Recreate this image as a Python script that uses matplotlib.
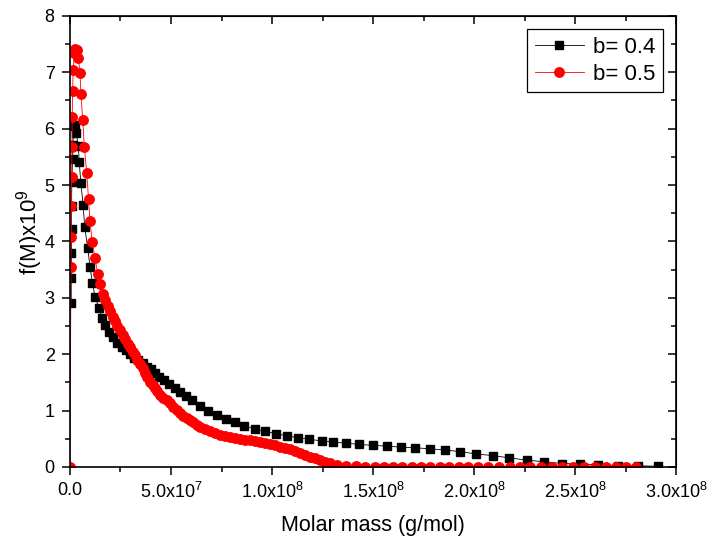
import numpy as np
import matplotlib
matplotlib.use('Agg')
import matplotlib.pyplot as plt

# molar mass in units of 1e6 g/mol, f(M) in units of 1e-9
m_b04 = [0.6, 0.6, 0.7, 0.8, 0.8, 0.9, 1.3, 1.4, 2.0, 2.6,
         3.0, 4.1, 4.6, 5.4, 6.5, 7.3, 8.8, 9.9, 11.1, 12.4,
         14.4, 15.7, 17.3, 19.5, 21.4, 23.4, 25.6, 27.7, 29.7, 31.7,
         33.8, 36.0, 38.0, 40.0, 42.1, 44.2, 46.5, 49.2, 52.0, 54.5,
         57.4, 60.2, 64.4, 68.5, 72.6, 77.2, 81.7, 86.3, 91.6, 96.5,
         102.0, 107.3, 112.7, 118.5, 124.6, 130.4, 136.6, 143.2, 149.8, 156.8,
         163.7, 170.8, 178.2, 185.6, 193.1, 201.0, 209.2, 217.5, 226.0, 234.8,
         243.7, 252.5, 261.5, 271.4, 281.3, 291.2]
f_b04 = [2.91, 3.35, 3.79, 4.22, 4.63, 5.06, 5.46, 5.71, 6.05, 6.07,
         5.93, 5.70, 5.40, 5.03, 4.65, 4.25, 3.88, 3.55, 3.27, 3.02,
         2.81, 2.65, 2.52, 2.40, 2.30, 2.20, 2.13, 2.07, 2.00, 1.94,
         1.89, 1.84, 1.78, 1.73, 1.67, 1.60, 1.54, 1.47, 1.40, 1.33,
         1.26, 1.19, 1.08, 1.00, 0.92, 0.85, 0.79, 0.73, 0.67, 0.63,
         0.59, 0.55, 0.52, 0.49, 0.46, 0.44, 0.42, 0.40, 0.38, 0.37,
         0.35, 0.34, 0.32, 0.30, 0.27, 0.23, 0.20, 0.16, 0.12, 0.09,
         0.06, 0.05, 0.04, 0.02, 0.02, 0.01]

m_b05 = [0.0, 0.5, 0.6, 0.7, 0.8, 1.0, 1.1, 1.3, 1.6, 2.2,
         2.5, 3.6, 4.1, 5.0, 5.4, 6.3, 7.1, 8.3, 9.2, 9.9,
         11.0, 12.4, 13.7, 14.9, 16.1, 17.3, 18.7, 19.8, 21.1, 22.3,
         23.4, 24.8, 26.1, 27.2, 28.6, 29.7, 31.0, 32.2, 33.3, 34.7,
         36.0, 37.1, 38.3, 39.6, 40.9, 42.1, 43.2, 44.6, 46.2, 47.9,
         49.5, 51.2, 52.8, 54.5, 56.1, 57.8, 59.4, 61.0, 62.7, 64.4,
         66.8, 69.3, 71.8, 74.3, 76.7, 79.2, 81.7, 84.2, 86.6, 89.1,
         91.6, 94.1, 96.5, 99.0, 101.5, 104.0, 106.4, 108.9, 111.4, 113.9,
         116.3, 118.8, 121.3, 123.8, 126.2, 128.7, 132.0, 136.6, 141.6, 146.0,
         151.0, 155.4, 160.0, 164.4, 169.3, 173.8, 178.2, 183.2, 187.6, 192.6,
         197.0, 202.0, 207.0, 212.4, 217.8, 222.8, 227.7, 233.2, 238.6, 243.6,
         249.0, 254.5, 260.0, 265.3, 270.3, 275.2, 280.2]
f_b05 = [0.0, 3.55, 4.08, 4.63, 5.14, 5.67, 6.21, 6.67, 7.04, 7.34,
         7.42, 7.40, 7.26, 6.98, 6.61, 6.16, 5.68, 5.21, 4.75, 4.36,
         3.99, 3.70, 3.43, 3.24, 3.06, 2.96, 2.85, 2.77, 2.66, 2.59,
         2.50, 2.42, 2.34, 2.26, 2.18, 2.13, 2.04, 1.99, 1.90, 1.83,
         1.75, 1.67, 1.60, 1.51, 1.45, 1.40, 1.34, 1.28, 1.22, 1.18,
         1.13, 1.07, 1.01, 0.96, 0.91, 0.87, 0.83, 0.79, 0.75, 0.71,
         0.67, 0.63, 0.60, 0.57, 0.55, 0.53, 0.51, 0.49, 0.48, 0.47,
         0.455, 0.44, 0.42, 0.40, 0.38, 0.36, 0.335, 0.31, 0.28, 0.25,
         0.215, 0.18, 0.15, 0.12, 0.09, 0.07, 0.04, 0.02, 0.01, 0.0,
         0.0, 0.0, 0.0, 0.0, 0.0, 0.0, 0.0, 0.0, 0.0, 0.0,
         0.0, 0.0, 0.0, 0.0, 0.0, 0.0, 0.0, 0.0, 0.0, 0.0,
         0.0, 0.0, 0.0, 0.0, 0.0, 0.0, 0.0]

xtick_vals = [0.0, 5e7, 1e8, 1.5e8, 2e8, 2.5e8, 3e8]
xtick_labels = ['0.0', r'5.0x10$^{7}$', r'1.0x10$^{8}$', r'1.5x10$^{8}$',
                r'2.0x10$^{8}$', r'2.5x10$^{8}$', r'3.0x10$^{8}$']

plt.rcParams['font.family'] = ['Liberation Sans', 'DejaVu Sans']
plt.rcParams['mathtext.default'] = 'regular'

fig = plt.figure(figsize=(7.14, 5.48), dpi=100)
ax = fig.add_axes([0.098, 0.148, 0.849, 0.823])

ax.plot(np.array(m_b04) * 1e6, f_b04,
        color='black', lw=0.6, marker='s', ms=5.8,
        mec='black', mfc='black', label='b= 0.4')
ax.plot(np.array(m_b05) * 1e6, f_b05,
        color='red', lw=0.6, marker='o', ms=6.8,
        mec='red', mfc='red', label='b= 0.5')

ax.axis([0.0, 3e8, 0, 8])
ax.set_xticks(xtick_vals)
ax.set_xticklabels(xtick_labels)
ax.xaxis.set_minor_locator(plt.MultipleLocator(2.5e7))
ax.yaxis.set_major_locator(plt.MultipleLocator(1))
ax.yaxis.set_minor_locator(plt.MultipleLocator(0.5))
ax.tick_params(which='both', direction='out', width=1.1, labelsize=13,
               top=False, right=False, pad=5)
ax.tick_params(which='major', length=6)
ax.tick_params(which='minor', length=3.5)
for s in ax.spines.values():
    s.set_linewidth(1.2)

# mirrored ticks pointing inwards on top and right
top = ax.secondary_xaxis('top')
top.set_xticks(xtick_vals)
top.xaxis.set_minor_locator(plt.MultipleLocator(2.5e7))
top.tick_params(which='both', direction='in', width=1.1, labeltop=False)
top.tick_params(which='major', length=6)
top.tick_params(which='minor', length=3.5)
right = ax.secondary_yaxis('right')
right.yaxis.set_major_locator(plt.MultipleLocator(1))
right.yaxis.set_minor_locator(plt.MultipleLocator(0.5))
right.tick_params(which='both', direction='in', width=1.1, labelright=False)
right.tick_params(which='major', length=6)
right.tick_params(which='minor', length=3.5)

ax.set_xlabel('Molar mass (g/mol)', fontsize=15.5, labelpad=9)
ax.set_ylabel(r'f(M)x10$^{9}$', fontsize=16)
ax.yaxis.set_label_coords(-0.042, 0.52)

leg = ax.legend(loc='upper right', fontsize=16, fancybox=False,
                edgecolor='black', framealpha=1, handlelength=2.2,
                borderaxespad=0.6, handletextpad=0.4, labelspacing=0.25,
                borderpad=0.35)
leg.get_frame().set_linewidth(0.9)

fig.savefig('out.png', dpi=100)
